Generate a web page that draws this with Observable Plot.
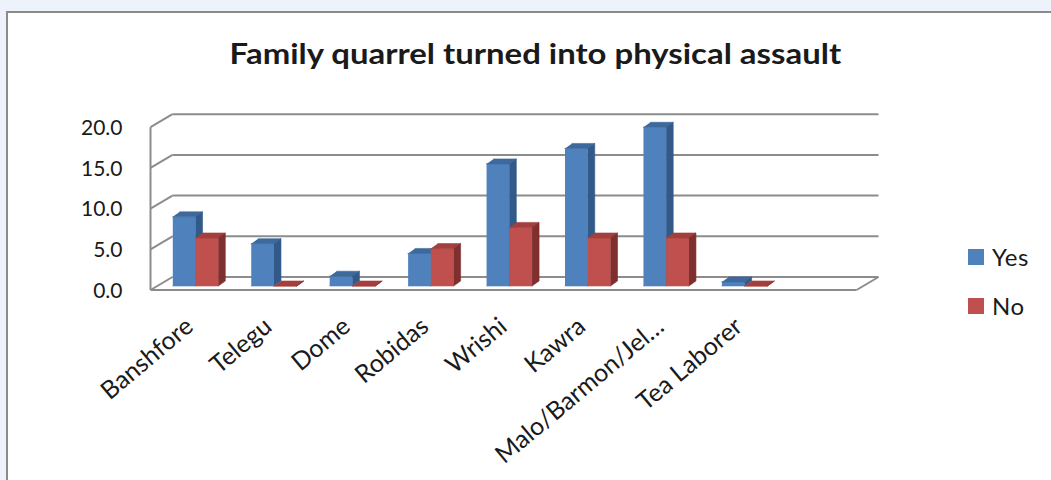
<!DOCTYPE html>
<html>
<head>
<meta charset="utf-8">
<script src="https://cdn.jsdelivr.net/npm/d3@7"></script>
<script src="https://cdn.jsdelivr.net/npm/@observablehq/plot@0.6"></script>
<style>
  html, body { margin: 0; padding: 0; background: #eef3fb; overflow: hidden; }
  #frame {
    position: absolute; left: 6px; top: 11px; width: 1100px; height: 520px;
    background: #fff; border-top: 2px solid #8a8a8a; border-left: 2px solid #8a8a8a;
    font-family: Lato, "Open Sans", sans-serif; color: #1a1a1a;
  }
  #title {
    position: absolute; left: 0; top: 22px; width: 1054px; text-align: center;
    font-size: 28px; font-weight: bold; line-height: 36px; white-space: nowrap;
    transform: scaleX(1.175); transform-origin: 525px 0;
  }
  #plot { position: absolute; left: 0; top: 57px; }
  .lg { position: absolute; left: 960px; display: flex; align-items: center; font-size: 24px; line-height: 30px; letter-spacing: 0.5px; }
  .lg span.sw { display: inline-block; width: 16px; height: 16px; margin-right: 8px; }
</style>
</head>
<body>
<div id="frame">
  <div id="title">Family quarrel turned into physical assault</div>
  <div id="plot"></div>
  <div class="lg" style="top:229px"><span class="sw" style="background:#4F81BD"></span>Yes</div>
  <div class="lg" style="top:278px"><span class="sw" style="background:#C0504D"></span>No</div>
</div>
<script>
// Ethnic groups along the category axis
const categories = ["Banshfore", "Telegu", "Dome", "Robidas", "Wrishi", "Kawra", "Malo/Barmon/Jel…", "Tea Laborer"];
// Percentages per group
const yesValues = [8.5, 5.2, 1.2, 4.0, 15.0, 16.9, 19.5, 0.5];
const noValues  = [5.9, 0.0, 0.0, 4.6, 7.2, 5.9, 5.9, 0.0];
// Value axis ticks
const yTicks = [0, 5, 10, 15, 20];
const seriesNames = ["Yes", "No"];

// Face colours per series: front, top, side
const faceColors = {
  Yes: {front: "#4F81BD", top: "#3D699D", side: "#325A88"},
  No:  {front: "#C0504D", top: "#A2403D", side: "#7F2F2D"}
};

// Plot geometry (one x unit = one category slot, y in percent)
const W = 1043, H = 410;
const nSlots = 9;
const xRange = [148.6, 854.6];
const yRange = [215.5, 52.7];
const ux = nSlots / (xRange[1] - xRange[0]);      // x units per pixel
const uy = 20 / (yRange[0] - yRange[1]);          // y units per pixel
// Oblique depth offsets (pixels right, pixels up) relative to the bars' front plane
const FRONT = [-6.6, -4], BACK = [15.4, 9], BAR = [7, 5];
const off = (o) => ({dx: o[0] * ux, dy: o[1] * uy});
const fr = off(FRONT), bk = off(BACK), bd = off(BAR);

const barStart = 0.2, barW = 0.29;

// Bar faces as polygons, listed in painter's order
const faces = [];
categories.forEach((c, i) => {
  [yesValues[i], noValues[i]].forEach((v, s) => {
    const name = seriesNames[s];
    const col = faceColors[name];
    const x0 = i + barStart + s * barW, x1 = x0 + barW;
    const id = `${i}-${s}`;
    const push = (face, pts) => pts.forEach(([x, y]) => faces.push({id: `${id}-${face}`, x, y, c: col[face]}));
    push("front", [[x0, 0], [x1, 0], [x1, v], [x0, v]]);
    push("top", [[x0, v], [x1, v], [x1 + bd.dx, v + bd.dy], [x0 + bd.dx, v + bd.dy]]);
    push("side", [[x1, 0], [x1 + bd.dx, bd.dy], [x1 + bd.dx, v + bd.dy], [x1, v]]);
  });
});

const grid = "#8c8c8c";
const chart = Plot.plot({
  width: W, height: H,
  margin: 0,
  x: {domain: [0, nSlots], range: xRange, axis: null},
  y: {domain: [0, 20], range: yRange, axis: null},
  color: {type: "identity"},
  style: {fontFamily: "Lato, 'Open Sans', sans-serif", color: "#1a1a1a", background: "transparent"},
  marks: [
    // back wall gridlines
    Plot.link(yTicks, {x1: bk.dx, x2: nSlots + bk.dx, y1: d => d + bk.dy, y2: d => d + bk.dy, stroke: grid, strokeWidth: 2}),
    // left wall connectors
    Plot.link(yTicks, {x1: fr.dx, x2: bk.dx, y1: d => d + fr.dy, y2: d => d + bk.dy, stroke: grid, strokeWidth: 2}),
    // left wall front edge
    Plot.link([0], {x1: fr.dx, x2: fr.dx, y1: fr.dy, y2: 20 + fr.dy, stroke: grid, strokeWidth: 2}),
    // floor front and right edges
    Plot.link([0], {x1: fr.dx, x2: nSlots + fr.dx, y1: fr.dy, y2: fr.dy, stroke: grid, strokeWidth: 2}),
    Plot.link([0], {x1: nSlots + fr.dx, x2: nSlots + bk.dx, y1: fr.dy, y2: bk.dy, stroke: grid, strokeWidth: 2}),
    // bars
    Plot.line(faces, {x: "x", y: "y", z: "id", fill: "c", stroke: "c", strokeWidth: 0.6, strokeLinejoin: "miter"}),
    // value labels
    Plot.text(yTicks, {x: fr.dx, y: d => d + fr.dy, text: d => d.toFixed(1), textAnchor: "end", dx: -28, dy: 1, fontSize: 21, letterSpacing: 0.8}),
    // category labels
    Plot.text(categories, {x: (d, i) => i + 0.5 + fr.dx, y: fr.dy, text: d => d, textAnchor: "end", rotate: -40, dx: 0, dy: 33, fontSize: 25, letterSpacing: 0.6})
  ]
});
document.getElementById("plot").appendChild(chart);
</script>
</body>
</html>
